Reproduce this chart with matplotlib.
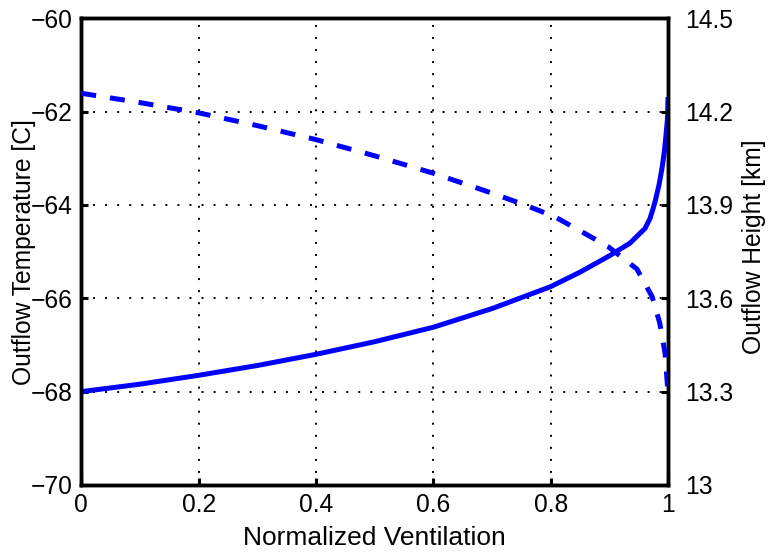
import matplotlib
matplotlib.use("Agg")
import matplotlib.pyplot as plt

plt.rcParams['font.family'] = ['Liberation Sans', 'DejaVu Sans']

# Outflow temperature (left axis, solid)
vent_temp = [0.0, 0.1, 0.2, 0.3, 0.4, 0.5, 0.6, 0.7, 0.8, 0.85, 0.9, 0.935,
             0.961, 0.9693, 0.975, 0.9779, 0.9847, 0.9898, 0.9937, 0.9966,
             0.9992, 1.0]
temp = [-68.0, -67.84, -67.65, -67.44, -67.2, -66.93, -66.62, -66.22, -65.75,
        -65.44, -65.09, -64.82, -64.5, -64.29, -64.06, -63.93, -63.57, -63.21,
        -62.86, -62.5, -62.14, -61.69]

# Outflow height (right axis, dashed)
vent_height = [0.0, 0.1, 0.2, 0.3, 0.4, 0.5, 0.6, 0.7, 0.756, 0.807, 0.853,
               0.898, 0.947, 0.973, 0.986, 0.995, 1.0]
height = [14.259, 14.229, 14.196, 14.155, 14.110, 14.058, 14.002, 13.938,
          13.900, 13.862, 13.814, 13.766, 13.694, 13.605, 13.52, 13.423, 13.295]

x_ticks = [0, 0.2, 0.4, 0.6, 0.8, 1]
x_ticklabels = ['0', '0.2', '0.4', '0.6', '0.8', '1']
left_ticks = [-70, -68, -66, -64, -62, -60]
right_ticks = [13, 13.3, 13.6, 13.9, 14.2, 14.5]
right_ticklabels = ['13', '13.3', '13.6', '13.9', '14.2', '14.5']

FS = 17.7
fig = plt.figure(figsize=(7.72, 5.59), dpi=100)
ax = fig.add_axes([0.1053, 0.1324, 0.7600, 0.8349])
ax2 = ax.twinx()

ax.plot(vent_temp, temp, color='#0000ff', lw=3.6, solid_capstyle='butt', zorder=3)
ax2.plot(vent_height, height, color='#0000ff', lw=3.6,
         linestyle=(0, (3.0, 2.8)), dash_capstyle='butt', zorder=3)

ax.set_xlim(0, 1)
ax.set_ylim(-70, -60)
ax2.set_ylim(13, 14.5)
ax.set_xticks(x_ticks)
ax.set_xticklabels(x_ticklabels)
ax.set_yticks(left_ticks)
ax.set_yticklabels([f"\u2212{abs(v)}" for v in left_ticks])
ax2.set_yticks(right_ticks)
ax2.set_yticklabels(right_ticklabels)

ax.grid(True, color='black', linestyle=(0, (1, 5.2)), linewidth=1.4)

for a in (ax, ax2):
    for s in a.spines.values():
        s.set_linewidth(2.5)
    a.tick_params(direction='in', length=5, width=2.2, labelsize=FS)

ax.tick_params(axis='x', pad=6)
ax.tick_params(axis='y', pad=6)
ax2.tick_params(axis='y', pad=12)

ax.set_xlabel('Normalized Ventilation', fontsize=19, labelpad=6)
ax.set_ylabel('Outflow Temperature [C]', fontsize=FS)
ax.yaxis.set_label_coords(-0.078, 0.5)
ax2.set_ylabel('Outflow Height [km]', fontsize=FS)
ax2.yaxis.set_label_coords(1.126, 0.51)

fig.savefig('out.png', dpi=100)
